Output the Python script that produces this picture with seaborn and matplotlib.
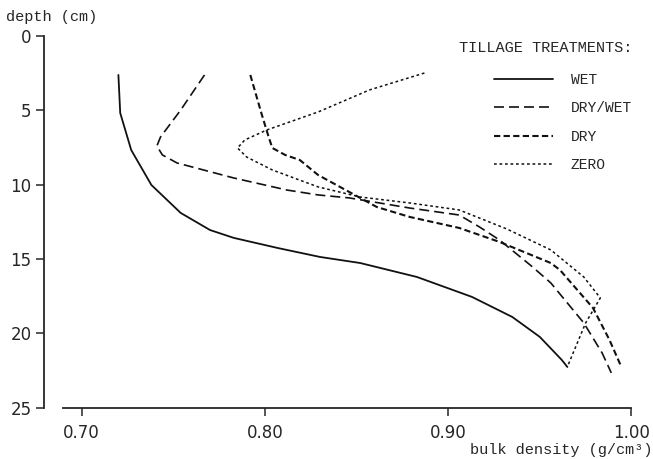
import pandas as pd
import matplotlib.pyplot as plt
import seaborn as sns

# bulk density (g/cm3) vs depth (cm)
wet_density = [0.720, 0.721, 0.727, 0.738, 0.754, 0.770, 0.783, 0.807, 0.830, 0.852,
               0.883, 0.913, 0.935, 0.950, 0.962, 0.965]
wet_depth = [2.62, 5.18, 7.67, 10.02, 11.90, 13.05, 13.58, 14.26, 14.86, 15.27,
             16.21, 17.55, 18.90, 20.24, 21.79, 22.26]

drywet_density = [0.767, 0.754, 0.743, 0.741, 0.744, 0.752, 0.783, 0.812, 0.829, 0.846,
                  0.879, 0.906, 0.917, 0.928, 0.946, 0.956, 0.974, 0.984, 0.989]
drywet_depth = [2.62, 4.98, 6.79, 7.40, 8.00, 8.54, 9.55, 10.36, 10.69, 10.89,
                11.57, 12.04, 12.84, 13.72, 15.53, 16.61, 19.30, 21.32, 22.66]

dry_density = [0.792, 0.798, 0.802, 0.804, 0.811, 0.819, 0.829, 0.846, 0.861, 0.879,
               0.906, 0.928, 0.956, 0.961, 0.979, 0.988, 0.994]
dry_depth = [2.62, 5.18, 6.79, 7.53, 8.00, 8.34, 9.35, 10.49, 11.50, 12.17,
             12.91, 13.85, 15.27, 15.74, 18.29, 20.44, 22.12]

zero_density = [0.887, 0.857, 0.829, 0.801, 0.789, 0.785, 0.790, 0.804, 0.829, 0.852,
                0.879, 0.906, 0.932, 0.956, 0.974, 0.983, 0.975, 0.965]
zero_depth = [2.49, 3.63, 5.11, 6.32, 6.99, 7.53, 8.14, 9.01, 10.15, 10.83,
              11.23, 11.70, 12.98, 14.39, 16.21, 17.62, 19.30, 22.26]

treatments = ["WET", "DRY/WET", "DRY", "ZERO"]
x_ticks = [0.70, 0.80, 0.90, 1.00]
x_tick_labels = ["0.70", "0.80", "0.90", "1.00"]
y_ticks = [0, 5, 10, 15, 20, 25]

series = {
    "WET": (wet_density, wet_depth),
    "DRY/WET": (drywet_density, drywet_depth),
    "DRY": (dry_density, dry_depth),
    "ZERO": (zero_density, zero_depth),
}
styles = {
    "WET": dict(linestyle="-", linewidth=1.3),
    "DRY/WET": dict(linestyle=(0, (6, 3)), linewidth=1.2),
    "DRY": dict(linestyle=(0, (3, 1.6)), linewidth=1.5),
    "ZERO": dict(linestyle=(0, (1.8, 1.8)), linewidth=1.1),
}

sns.set_style("ticks")
mono = "Liberation Mono"

fig = plt.figure(figsize=(6.53, 4.59), dpi=100)
ax = fig.add_axes([44 / 653, 1 - 407.7 / 459, (632 - 44) / 653, (407.7 - 36) / 459])

for name in treatments:
    dens, dep = series[name]
    df = pd.DataFrame({"density": dens, "depth": dep})
    sns.lineplot(data=df, x="density", y="depth", sort=False, estimator=None,
                 color="#111111", label=name, ax=ax, **styles[name])

ax.set_xlim(0.6794, 1.0003)
ax.set_ylim(25, 0)
ax.set_xticks(x_ticks)
ax.set_xticklabels(x_tick_labels)
ax.set_yticks(y_ticks)
ax.set_xlabel("")
ax.set_ylabel("")
ax.tick_params(axis="x", direction="out", length=6, width=1.1, pad=6, labelsize=12)
ax.tick_params(axis="y", direction="out", length=6, width=1.1, pad=3, labelsize=12)
for lab in ax.get_xticklabels() + ax.get_yticklabels():
    lab.set_fontfamily("DejaVu Sans")

sns.despine(ax=ax)
ax.spines["left"].set_linewidth(1.3)
ax.spines["bottom"].set_linewidth(1.3)
ax.spines["bottom"].set_bounds(0.690, 1.00)

leg = ax.legend(
    title="TILLAGE TREATMENTS:",
    loc="upper right",
    bbox_to_anchor=(632 / 653, 1 - 41 / 459),
    bbox_transform=fig.transFigure,
    frameon=False,
    borderpad=0,
    borderaxespad=0,
    handlelength=4.05,
    handletextpad=1.2,
    labelspacing=0.98,
    alignment="right",
    prop={"family": mono, "size": 10.5},
    title_fontproperties={"family": mono, "size": 11},
)
# a little more room between the title and the first entry
leg._legend_box.sep = 13

fig.text(6 / 653, 1 - 17 / 459, "depth (cm)", family=mono, fontsize=11,
         ha="left", va="center")
fig.text(652 / 653, 1 - 450 / 459, "bulk density (g/cm³)", family=mono,
         fontsize=11, ha="right", va="center")

plt.savefig("out.png", dpi=100)
